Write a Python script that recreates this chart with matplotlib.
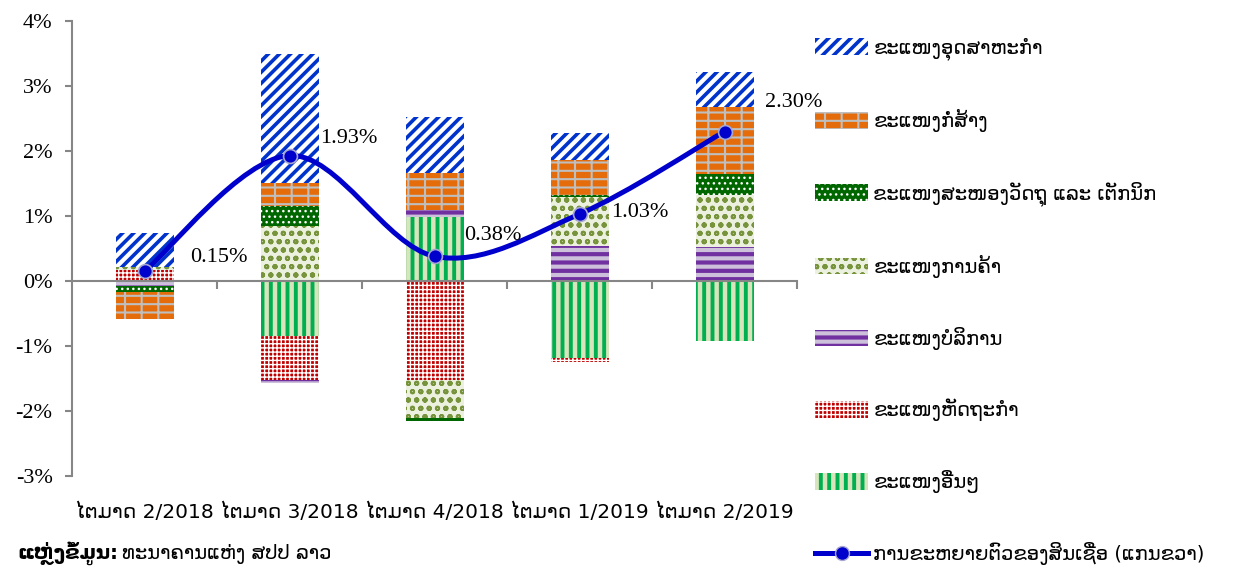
import numpy as np
import matplotlib.pyplot as plt
from matplotlib.path import Path
from matplotlib.patches import PathPatch, Patch
from matplotlib.lines import Line2D

# Кварталы
quarters = ['ໄຕມາດ 2/2018', 'ໄຕມາດ 3/2018', 'ໄຕມາດ 4/2018', 'ໄຕມາດ 1/2019', 'ໄຕມາດ 2/2019']

# Вклад секторов, % (порядок серий снизу вверх)
others = [0.00, -0.84, 0.99, -1.19, -0.92]
handicraft = [0.17, -0.68, -1.52, -0.05, 0.02]
services = [-0.08, -0.05, 0.11, 0.54, 0.50]
trade = [0.05, 0.84, -0.58, 0.75, 0.80]
materials = [-0.09, 0.32, -0.05, 0.04, 0.32]
construction = [-0.42, 0.35, 0.56, 0.53, 1.03]
industry = [0.52, 1.99, 0.87, 0.41, 0.55]

# Рост кредита, %
credit_growth = [0.15, 1.93, 0.38, 1.03, 2.30]

series_names = ['ຂະແໜງອື່ນໆ', 'ຂະແໜງຫັດຖະກຳ', 'ຂະແໜງບໍລິການ', 'ຂະແໜງການຄ້າ',
                'ຂະແໜງສະໜອງວັດຖຸ ແລະ ເຕັກນິກ', 'ຂະແໜງກໍ່ສ້າງ', 'ຂະແໜງອຸດສາຫະກຳ']
line_name = 'ການຂະຫຍາຍຕົວຂອງສິນເຊື່ອ (ແກນຂວາ)'
source_bold = 'ແຫຼ່ງຂໍ້ມູນ:'
source_text = 'ທະນາຄານແຫ່ງ ສປປ ລາວ'

# Стили: заливка, штриховка, цвет штриховки, толщина штриховки
styles = [
    ('#D7E4BC', '||', '#00B050', 2.8),
    ('#C00000', '++++', '#FFFFFF', 1.0),
    ('#CCC0DA', '--', '#7030A0', 3.0),
    ('#EBF1DE', 'oo', '#77933C', 1.4),
    ('#006600', '...', '#FFFFFF', 1.0),
    ('#E46C0A', '-+', '#BFBFBF', 1.5),
    ('#FFFFFF', '///', '#0033CC', 2.6),
]

lao_font = 'DejaVu Sans'
num_font = 'Liberation Serif'

fig = plt.figure(figsize=(12.33, 5.66), dpi=100)
ax = fig.add_axes([72 / 1233, 1 - 476 / 566, 725 / 1233, 455 / 566])

x = np.arange(len(quarters))
pos_bottom = np.zeros(len(x))
neg_bottom = np.zeros(len(x))
handles = []
for vals, name, (face, hatch, hcol, hlw) in zip(
        [others, handicraft, services, trade, materials, construction, industry],
        series_names, styles):
    v = np.array(vals)
    bottom = np.where(v >= 0, pos_bottom, neg_bottom)
    bars = ax.bar(x, v, 0.4, bottom=bottom, color=face, edgecolor=hcol,
                  hatch=hatch, linewidth=0, zorder=2)
    for b in bars:
        b.set_hatch_linewidth(hlw)
    pos_bottom += np.clip(v, 0, None)
    neg_bottom += np.clip(v, None, 0)
    h = Patch(facecolor=face, edgecolor=hcol, hatch=hatch, linewidth=0)
    handles.append((h, name, hlw))

# Сглаженная линия (кривые Безье как в Excel)
y = np.array(credit_growth)
pts = np.column_stack([x, y])
ext = np.vstack([pts[0], pts, pts[-1]])
verts = [pts[0]]
codes = [Path.MOVETO]
for i in range(len(pts) - 1):
    c1 = ext[i + 1] + (ext[i + 2] - ext[i]) / 6
    c2 = ext[i + 2] - (ext[i + 3] - ext[i + 1]) / 6
    verts += [c1, c2, ext[i + 2]]
    codes += [Path.CURVE4] * 3
ax.add_patch(PathPatch(Path(verts, codes), fill=False, edgecolor='#0000CC',
                       linewidth=3.6, zorder=3, capstyle='round'))
ax.plot(x, y, 'o', color='#0000CC', markersize=10, markeredgecolor='#A6A6D2',
        markeredgewidth=1.2, zorder=4)

# Подписи значений
offsets = [(33, 10), (22, 12), (21, 15), (23, 1), (29, 21)]
for xi, yi, (dx, dy) in zip(x, y, offsets):
    ax.annotate(f'{yi:.2f}%', (xi, yi), xytext=(dx, dy), textcoords='offset points',
                ha='left', va='center', fontsize=16, family=num_font, zorder=5)

# Оси
ax.set_xlim(-0.5, len(x) - 0.5)
ax.set_ylim(-3, 4)
ax.set_yticks(range(-3, 5))
ax.set_yticklabels([f'{t}%' for t in range(-3, 5)], family=num_font, fontsize=16)
ax.tick_params(axis='y', length=5, width=1.5, color='#868686', pad=9)

ax.spines['right'].set_visible(False)
ax.spines['bottom'].set_visible(False)
ax.spines['left'].set_color('#868686')
ax.spines['left'].set_linewidth(1.5)
ax.spines['top'].set_position(('data', 0))
ax.spines['top'].set_color('#868686')
ax.spines['top'].set_linewidth(1.5)
ax.spines['top'].set_zorder(2.5)

ax.set_xticks(x)
ax.set_xticklabels(quarters, family=lao_font, fontsize=14.5)
ax.set_xticks(x + 0.5, minor=True)
ax.tick_params(axis='x', which='major', length=0, pad=19, bottom=True, top=False)
ax.tick_params(axis='x', which='minor', length=6, width=1.5, color='#868686',
               direction='in', top=True, bottom=False)

# Легенда
handles = handles[::-1]
leg_handles = [h for h, _, _ in handles] + [
    Line2D([], [], color='#0000CC', linewidth=3.6, marker='o', markersize=10,
           markeredgecolor='#A6A6D2')]
leg_labels = [n for _, n, _ in handles] + [line_name]
leg = fig.legend(leg_handles, leg_labels, loc='upper left',
                 bbox_to_anchor=(815 / 1233, 1 - 37 / 566),
                 frameon=False, prop={'family': lao_font, 'size': 14}, labelspacing=2.52,
                 handlelength=2.75, handleheight=0.95, handletextpad=0.25, borderpad=0,
                 borderaxespad=0)
# толщина штриховки в значках легенды
for p, (_, _, hlw) in zip(leg.get_patches(), handles):
    p.set_hatch_linewidth(hlw)

# Источник
fig.text(17 / 1233, 7 / 566, source_bold, family=lao_font, fontsize=14,
         fontweight='bold', va='baseline')
fig.text(122 / 1233, 7 / 566, source_text, family=lao_font, fontsize=14, va='baseline')

fig.savefig('out.png', dpi=100)
